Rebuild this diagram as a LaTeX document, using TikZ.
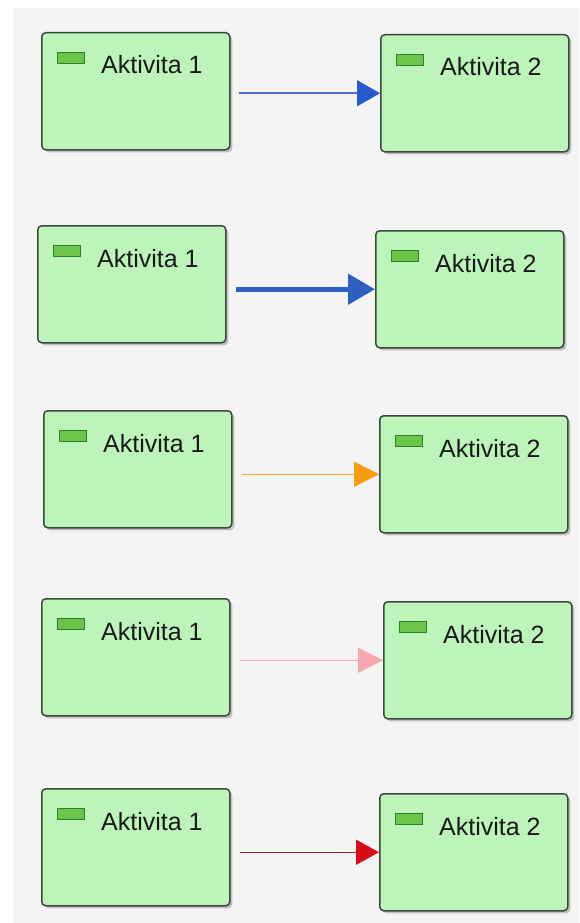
\documentclass[tikz,border=0pt]{standalone}
\usepackage{fontspec}
\setmainfont{Liberation Sans}
\usetikzlibrary{arrows.meta,calc,shadows}
\definecolor{bgray}{RGB}{244,244,244}
\definecolor{boxfill}{RGB}{188,244,186}
\definecolor{boxline}{RGB}{60,72,60}
\definecolor{iconfill}{RGB}{108,196,72}
\definecolor{iconline}{RGB}{44,130,44}
\definecolor{txt}{RGB}{25,25,25}
\definecolor{blueline}{RGB}{80,112,212}
\definecolor{bluehead}{RGB}{40,88,205}
\definecolor{bluethick}{RGB}{45,95,195}
\definecolor{orangeline}{RGB}{245,168,45}
\definecolor{orangehead}{RGB}{247,155,15}
\definecolor{pinkline}{RGB}{245,172,178}
\definecolor{pinkhead}{RGB}{246,168,176}
\definecolor{redline}{RGB}{168,30,40}
\definecolor{redhead}{RGB}{215,12,22}
\tikzset{
  actbox/.style={draw=boxline, line width=1.5pt, fill=boxfill, rounded corners=4pt,
    minimum width=188pt, minimum height=117pt, inner sep=0pt, anchor=north west,
    drop shadow={shadow xshift=2.5pt, shadow yshift=-2.5pt, fill=black!45, opacity=0.5}},
  acticon/.style={draw=iconline, line width=1.2pt, fill=iconfill, minimum width=27pt,
    minimum height=11pt, inner sep=0pt, anchor=north west},
  actlbl/.style={text=txt, font=\fontsize{25}{30}\selectfont, inner sep=0pt, anchor=base west},
}
\newcommand{\actnode}[4]{%
  \node[actbox] (#1) at (#2,#3) {};
  \node[acticon] (#1i) at ($(#1.north west)+(16,20)$) {};
  \node[actlbl] (#1t) at ($(#1.north west)+(60,42)$) {#4};
}
\newcommand{\actlink}[6]{%
  \draw[draw=#3, line width=#4, -{Triangle[length=#5, width=#6, color=#3]}]
    ($(#1.east |- #2.west)+(8,0)$) -- (#2.west);
}
\begin{document}
\begin{tikzpicture}[x=1pt,y=-1pt]
  \useasboundingbox (0,0) rectangle (579,923);
  \fill[white] (0,0) rectangle (579,923);
  \fill[bgray] (13,8) rectangle (579,923);

  \actnode{La}{41}{32}{Aktivita 1}
  \actnode{Ra}{380}{34}{Aktivita 2}
  \actnode{Lb}{37}{225}{Aktivita 1}
  \actnode{Rb}{375}{230}{Aktivita 2}
  \actnode{Lc}{43}{410}{Aktivita 1}
  \actnode{Rc}{379}{415}{Aktivita 2}
  \actnode{Ld}{41}{598}{Aktivita 1}
  \actnode{Rd}{383}{601}{Aktivita 2}
  \actnode{Le}{41}{788}{Aktivita 1}
  \actnode{Re}{379}{793}{Aktivita 2}

  \draw[draw=blueline, line width=1.5pt, -{Triangle[length=23pt, width=26pt, color=bluehead]}]
    ($(La.east |- Ra.west)+(8,0)$) -- (Ra.west);
  \draw[draw=bluethick, line width=5pt, -{Triangle[length=27pt, width=30pt, color=bluethick]}]
    ($(Lb.east |- Rb.west)+(9,0)$) -- (Rb.west);
  \draw[draw=orangeline, line width=1.5pt, -{Triangle[length=25pt, width=25pt, color=orangehead]}]
    ($(Lc.east |- Rc.west)+(9,0)$) -- (Rc.west);
  \draw[draw=pinkline, line width=1.5pt, -{Triangle[length=25pt, width=25pt, color=pinkhead]}]
    ($(Ld.east |- Rd.west)+(9,0)$) -- (Rd.west);
  \draw[draw=redline, line width=1.5pt, -{Triangle[length=23pt, width=25pt, color=redhead]}]
    ($(Le.east |- Re.west)+(9,0)$) -- (Re.west);
\end{tikzpicture}
\end{document}
